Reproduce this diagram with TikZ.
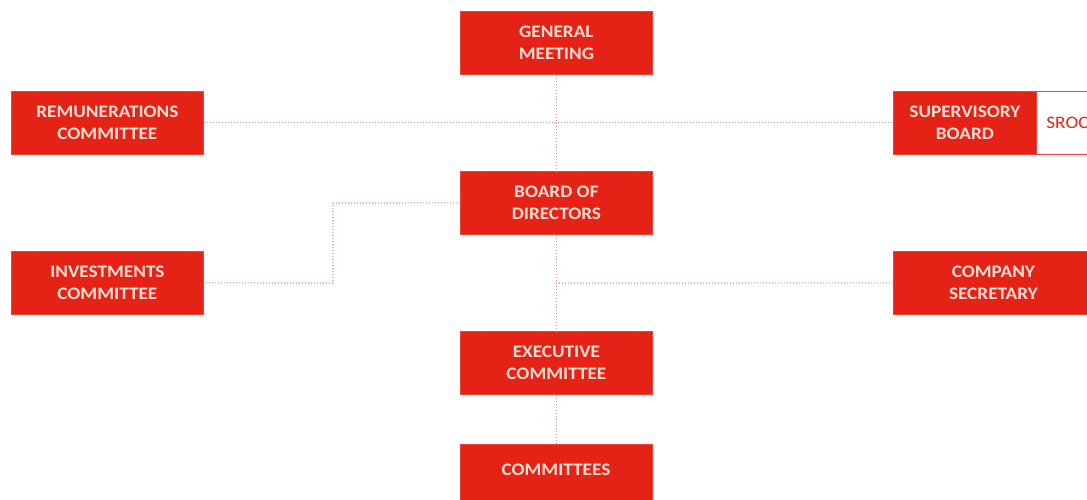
\documentclass[tikz,border=0pt]{standalone}
\usepackage{fontspec}
\setmainfont[FakeStretch=1.1]{Carlito}
\definecolor{boxred}{RGB}{228,35,22}
\definecolor{boxtext}{RGB}{255,222,212}
\definecolor{linecol}{RGB}{205,140,150}
\begin{document}
\begin{tikzpicture}[x=1pt,y=-1pt,
  orgbox/.style={draw=boxred!85!white,line width=0.8pt,fill=boxred,text=boxtext,font=\bfseries\fontsize{17.5}{21.5}\selectfont,align=center,minimum width=192pt,minimum height=63pt,inner sep=0pt,anchor=north west},
  link/.style={draw=linecol,line width=1.1pt,dash pattern=on 1.2pt off 1.8pt}]
\useasboundingbox (0,0) rectangle (1087,499);
\clip (0,0) rectangle (1087,499);
\node[orgbox] (gm) at (460,11) {GENERAL\\MEETING};
\node[orgbox] (rem) at (11,91) {REMUNERATIONS\\COMMITTEE};
\node[orgbox,minimum width=143pt] (sup) at (893,91) {SUPERVISORY\\BOARD};
\node[orgbox,fill=white,text=boxred,font=\fontsize{17.5}{21.5}\selectfont,minimum width=80pt,text width=68pt,align=left] (sroc) at (1036,91) {\hspace*{4pt}SROC};
\node[orgbox] (bod) at (460,171) {BOARD OF\\DIRECTORS};
\node[orgbox] (inv) at (11,251) {INVESTMENTS\\COMMITTEE};
\node[orgbox,minimum width=200pt] (sec) at (893,251) {COMPANY\\SECRETARY};
\node[orgbox] (exe) at (460,331) {EXECUTIVE\\COMMITTEE};
\node[orgbox,minimum height=70pt] (com) at (460,444) {};
\node[text=boxtext,font=\bfseries\fontsize{17.5}{21.5}\selectfont] (comt) at (556,470) {COMMITTEES};
\coordinate (bendA) at (333,203);
\coordinate (bendB) at (333,283);
\coordinate (jB) at (556,283);
\draw[link] (gm.south) -- (bod.north);
\draw[link] (rem.east) -- (sup.west);
\draw[link] (bod.west) -- (bendA) -- (bendB) -- (inv.east);
\draw[link] (bod.south) -- (exe.north);
\draw[link] (jB) -- (sec.west);
\draw[link] (exe.south) -- (com.north);
\end{tikzpicture}
\end{document}
